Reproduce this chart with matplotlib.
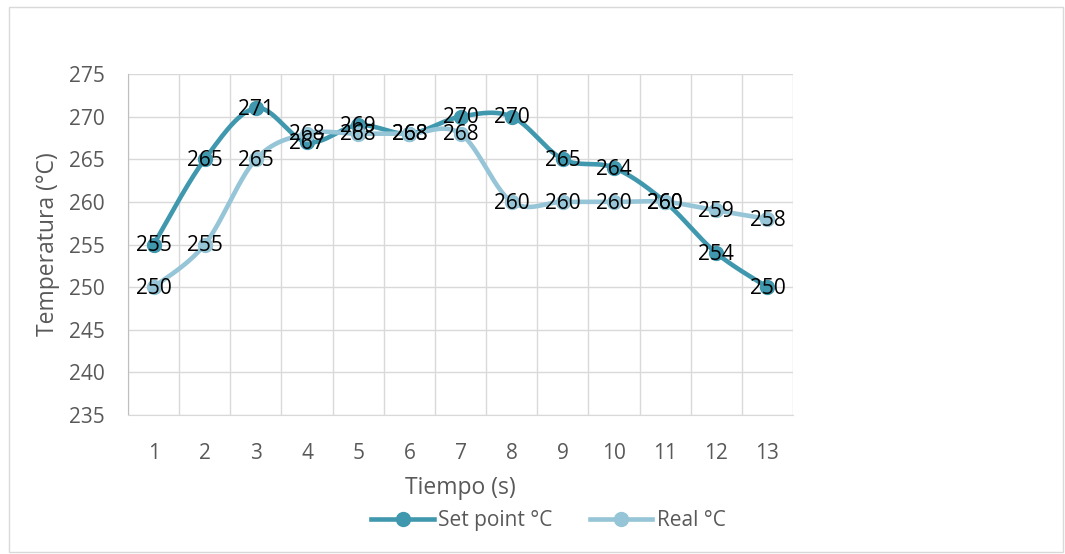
import numpy as np
import matplotlib.pyplot as plt
from matplotlib.patches import Rectangle

tiempo = [1, 2, 3, 4, 5, 6, 7, 8, 9, 10, 11, 12, 13]
set_point = [255, 265, 271, 267, 269, 268, 270, 270, 265, 264, 260, 254, 250]
real = [250, 255, 265, 268, 268, 268, 268, 260, 260, 260, 260, 259, 258]

plt.rcParams['font.family'] = ['Open Sans', 'DejaVu Sans']


def smooth(x, y, n=30):
    # catmull-rom style bezier, like excel's smoothed line
    x = np.asarray(x, float)
    y = np.asarray(y, float)
    px, py = [], []
    for i in range(len(x) - 1):
        x0, y0 = (x[i - 1], y[i - 1]) if i > 0 else (x[i], y[i])
        x3, y3 = (x[i + 2], y[i + 2]) if i + 2 < len(x) else (x[i + 1], y[i + 1])
        x1, y1, x2, y2 = x[i], y[i], x[i + 1], y[i + 1]
        c1x = x1 + (x2 - x0) / 6
        c1y = y1 + (y2 - y0) / 6
        c2x = x2 - (x3 - x1) / 6
        c2y = y2 - (y3 - y1) / 6
        t = np.linspace(0, 1, n)
        bx = (1 - t)**3 * x1 + 3 * (1 - t)**2 * t * c1x + 3 * (1 - t) * t**2 * c2x + t**3 * x2
        by = (1 - t)**3 * y1 + 3 * (1 - t)**2 * t * c1y + 3 * (1 - t) * t**2 * c2y + t**3 * y2
        px.extend(bx)
        py.extend(by)
    return px, py


c_set = '#4098ae'
c_real = '#95c5d6'
grey = '#595959'

fig = plt.figure(figsize=(10.65, 5.54), dpi=100)
fig.patches.append(Rectangle((0.008, 0.004), 0.99, 0.983, transform=fig.transFigure,
                             fill=False, edgecolor='#d9d9d9', linewidth=1))
ax = fig.add_axes([0.1202, 0.2509, 0.6244, 0.6155])

for vals, col, lab in [(set_point, c_set, 'Set point °C'), (real, c_real, 'Real °C')]:
    sx, sy = smooth(tiempo, vals)
    ax.plot(sx, sy, color=col, linewidth=3.3, solid_capstyle='round', zorder=3)
    ax.plot(tiempo, vals, 'o', color=col, markersize=10, zorder=4)
    ax.plot([], [], '-o', color=col, linewidth=3.3, markersize=10, label=lab)

for vals in (set_point, real):
    for x, v in zip(tiempo, vals):
        ax.text(x, v - 0.15, str(v), ha='center', va='center', fontsize=15, color='black', zorder=5)

ax.set_xlim(0.5, 13.5)
ax.set_ylim(235, 275)
ax.set_yticks(range(235, 276, 5))
ax.set_xticks(tiempo)
ax.set_xticks(np.arange(0.5, 13.6, 1), minor=True)
ax.grid(True, which='minor', axis='x', color='#d9d9d9', linewidth=1)
ax.grid(True, which='major', axis='y', color='#d9d9d9', linewidth=1)
ax.set_axisbelow(True)
for s in ['top', 'right']:
    ax.spines[s].set_visible(False)
ax.spines['bottom'].set_color('#d9d9d9')
ax.spines['left'].set_color('#bfbfbf')
ax.tick_params(which='both', length=0, labelsize=15, labelcolor=grey)
ax.tick_params(axis='y', pad=17)
ax.tick_params(axis='x', pad=20)
ax.set_xlabel('Tiempo (s)', fontsize=16.5, color=grey, labelpad=9)
ax.set_ylabel('Temperatura (°C)', fontsize=16.5, color=grey, labelpad=6)

fig.legend(loc='center', bbox_to_anchor=(0.515, 0.06), ncol=2, frameon=False,
           fontsize=15, labelcolor=grey, handlelength=3.0, columnspacing=1.8, handletextpad=0.2)

fig.savefig('out.png', dpi=100)
